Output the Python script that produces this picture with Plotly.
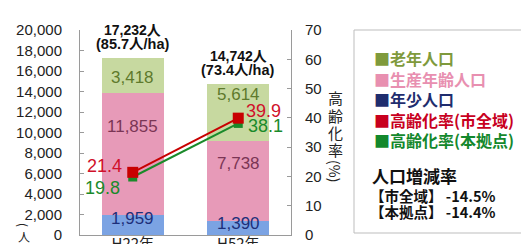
import plotly.graph_objects as go

# ---------------- data ----------------
years = ["H22年", "H52年"]
young = [1959, 1390]          # 年少人口
working = [11855, 7738]       # 生産年齢人口
elderly = [3418, 5614]        # 老年人口
density = [85.7, 73.4]        # 人/ha
aging_city = [21.4, 39.9]     # 高齢化率(市全域)
aging_base = [19.8, 38.1]     # 高齢化率(本拠点)

legend_labels = ["老年人口", "生産年齢人口", "年少人口", "高齢化率(市全域)", "高齢化率(本拠点)"]
change_title = "人口増減率"
change_labels = ["【市全域】", "【本拠点】"]
change_values = [-14.5, -14.4]

left_ticks = list(range(0, 20001, 2000))
right_ticks = list(range(0, 71, 10))

# ---------------- style ----------------
W, H = 529, 244
ML, MR, MT, MB = 72, 246, 22, 17
PW, PH = W - ML - MR, H - MT - MB
FONT = "Liberation Sans, Noto Sans CJK JP, sans-serif"
CJK = "Noto Sans CJK JP, sans-serif"

seg_colors = {"young": "#7ba3e3", "working": "#e79ab8", "elderly": "#c7d9a0"}
lab_colors = {"young": "#1d2f7a", "working": "#7b3555", "elderly": "#5e7a2c"}
legend_colors = ["#7f9a3c", "#e88fb0", "#1f2d6e", "#c8001e", "#13882c"]
red = "#c80000"
green = "#1a8a2a"


def px_x(px):
    return (px - ML) / PW


def px_y(py):
    return (H - MB - py) / PH


def note(text, px, py, size, color, family=CJK, xanchor="center", angle=0):
    return dict(x=px_x(px), y=px_y(py), xref="paper", yref="paper", text=text, showarrow=False,
                xanchor=xanchor, yanchor="middle", textangle=angle,
                font=dict(family=family, size=size, color=color))


fig = go.Figure()

fig.add_trace(go.Bar(x=years, y=young, marker=dict(color=seg_colors["young"], line_width=0), showlegend=False))
fig.add_trace(go.Bar(x=years, y=working, marker=dict(color=seg_colors["working"], line_width=0), showlegend=False))
fig.add_trace(go.Bar(x=years, y=elderly, marker=dict(color=seg_colors["elderly"], line_width=0), showlegend=False))

fig.add_trace(go.Scatter(x=years, y=aging_base, yaxis="y2", mode="lines+markers",
                         line=dict(color=green, width=2),
                         marker=dict(symbol="square", size=9, color=green), showlegend=False))
fig.add_trace(go.Scatter(x=years, y=aging_city, yaxis="y2", mode="lines+markers",
                         line=dict(color=red, width=2),
                         marker=dict(symbol="square", size=11, color=red), showlegend=False))

annotations = []

# segment labels
seg_shift = {"young": [6, 4], "working": [28, 18], "elderly": [-2, 18]}
for i, yr in enumerate(years):
    base = 0
    for key, arr in (("young", young), ("working", working), ("elderly", elderly)):
        v = arr[i]
        annotations.append(dict(x=yr, y=base + v / 2, xref="x", yref="y", text=f"{v:,}",
                                showarrow=False, yshift=seg_shift[key][i], xanchor="center", yanchor="middle",
                                font=dict(family=FONT, size=17, color=lab_colors[key])))
        base += v
    total = young[i] + working[i] + elderly[i]
    annotations.append(dict(x=yr, y=total, xref="x", yref="y", text=f"<b>{total:,}人</b>",
                            showarrow=False, yshift=28, xanchor="center", yanchor="middle",
                            font=dict(family=FONT, size=14, color="#111")))
    annotations.append(dict(x=yr, y=total, xref="x", yref="y", text=f"<b>({density[i]}人/ha)</b>",
                            showarrow=False, yshift=14, xanchor="center", yanchor="middle",
                            font=dict(family=FONT, size=14.5, color="#111")))

# line value labels
annotations += [
    dict(x=years[0], y=aging_city[0], xref="x", yref="y2", text=f"{aging_city[0]}", showarrow=False,
         xanchor="right", yanchor="middle", xshift=-9, yshift=6, font=dict(family=FONT, size=18, color="#d0102a")),
    dict(x=years[0], y=aging_base[0], xref="x", yref="y2", text=f"{aging_base[0]}", showarrow=False,
         xanchor="right", yanchor="middle", xshift=-11, yshift=-11, font=dict(family=FONT, size=18, color=green)),
    dict(x=years[1], y=aging_city[1], xref="x", yref="y2", text=f"{aging_city[1]}", showarrow=False,
         xanchor="left", yanchor="middle", xshift=6, yshift=7, font=dict(family=FONT, size=18, color="#d0102a")),
    dict(x=years[1], y=aging_base[1], xref="x", yref="y2", text=f"{aging_base[1]}", showarrow=False,
         xanchor="left", yanchor="middle", xshift=8, yshift=-3, font=dict(family=FONT, size=18, color=green)),
]

# left unit (人) vertical
annotations += [
    note("(", 16, 217, 12, "#222", angle=90),
    note("人", 16, 228, 12, "#222"),
    note(")", 16, 239, 12, "#222", angle=90),
]

# right axis title vertical
for ch, py in zip("高齢化率", [90, 107, 124, 141]):
    annotations.append(note(ch, 327, py, 15, "#222"))
annotations.append(note("(%)", 327, 163, 14, "#222", angle=90))

# legend (custom)
for lab, col, py in zip(legend_labels, legend_colors, [50, 71, 91, 112, 132]):
    annotations.append(note(f"<b>■{lab}</b>", 364, py, 16, col, xanchor="left"))
annotations.append(note(f"<b>{change_title}</b>", 362, 167, 17, "#111", xanchor="left"))
for lab, val, py in zip(change_labels, change_values, [187, 203]):
    annotations.append(note(f"<b>{lab} {val}%</b>", 360, py, 14.5, "#111", xanchor="left"))

shapes = [dict(type="rect", xref="paper", yref="paper", x0=px_x(346), x1=px_x(526),
               y0=px_y(225), y1=px_y(22), line=dict(color="#bdbdbd", width=1), fillcolor="rgba(0,0,0,0)")]

fig.update_layout(
    width=W, height=H, margin=dict(l=ML, r=MR, t=MT, b=MB, pad=0, autoexpand=False),
    paper_bgcolor="white", plot_bgcolor="white",
    barmode="stack", bargap=0.41,
    annotations=annotations, shapes=shapes, showlegend=False,
    xaxis=dict(showline=True, linecolor="#9a9a9a", linewidth=1, ticks="", showgrid=False, automargin=False,
               ticklabelstandoff=-5, tickfont=dict(family=CJK, size=15, color="#222")),
    yaxis=dict(range=[0, 20000], tickvals=left_ticks, tickformat=",", showline=True, linecolor="#9a9a9a",
               ticks="inside", ticklen=4, tickcolor="#9a9a9a", showgrid=False, zeroline=False,
               automargin=False,
               ticklabelstandoff=14, tickfont=dict(family=FONT, size=15, color="#222")),
    yaxis2=dict(range=[0, 70], tickvals=right_ticks, overlaying="y", side="right", showline=True,
                linecolor="#9a9a9a", ticks="inside", ticklen=4, tickcolor="#9a9a9a", showgrid=False,
                automargin=False,
                zeroline=False, ticklabelstandoff=10, tickfont=dict(family=FONT, size=15, color="#222")),
)

fig.write_html("out.html")
